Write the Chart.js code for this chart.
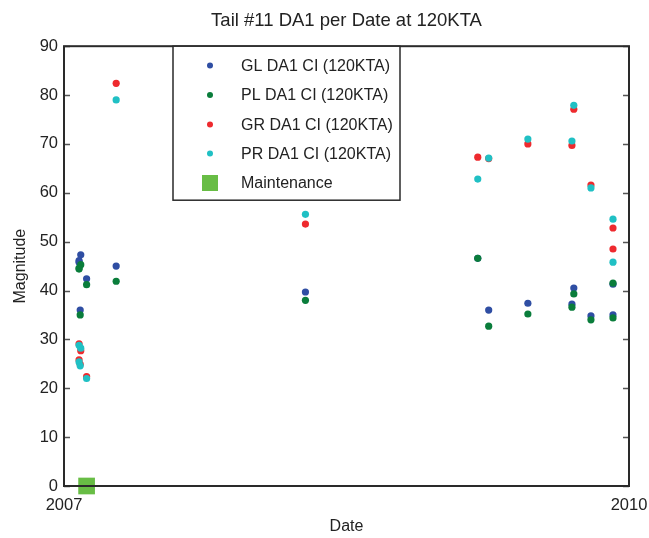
<!DOCTYPE html>
<html>
<head>
<meta charset="utf-8">
<script src="https://cdn.jsdelivr.net/npm/chart.js@4.4.1/dist/chart.umd.min.js"></script>
<style>
  html, body { margin: 0; padding: 0; background: #fff; }
</style>
</head>
<body>
<canvas id="grafico" width="649" height="538"></canvas>
<script>
// fechas en años decimales
const fechas = [2007.080, 2007.089, 2007.080, 2007.086, 2007.120, 2007.277, 2008.282,
  2009.197, 2009.255, 2009.463, 2009.697, 2009.707, 2009.798, 2009.915, 2009.915]
const glValores = [46.1, 47.3, 45.8, 36.0, 42.4, 45.0, 39.7, 46.6, 36.0, 37.4, 37.2, 40.5, 34.8, 41.3, 35.0]
const plValores = [44.4, 45.3, 44.6, 35.0, 41.2, 41.9, 38.0, 46.6, 32.7, 35.2, 36.6, 39.3, 34.0, 41.5, 34.4]
const grValores = [29.1, 27.7, 25.8, 24.9, 22.4, 82.4, 53.6, 67.3, 67.0, 70.0, 69.7, 77.1, 61.6, 52.8, 48.5]
const prValores = [28.8, 28.2, 25.4, 24.6, 22.0, 79.0, 55.6, 62.8, 67.1, 71.0, 70.6, 77.9, 61.0, 54.6, 45.8]
const mantenimientoFechas = [2007.12]
const mantenimientoValores = [0]
const ticksX = [2007, 2010]

const FUENTE = "'Liberation Sans', Arial, sans-serif"
const COLOR_TEXTO = '#222'

const puntos = (xs, ys) => xs.map((x, i) => ({ x, y: ys[i] }))

const serie = (label, valores, color, order) => ({
  label,
  data: puntos(fechas, valores),
  backgroundColor: color,
  borderWidth: 0,
  pointRadius: 3.6,
  pointHoverRadius: 3.6,
  showLine: false,
  order,
})

// marco, ticks interiores y leyenda dentro del área
const marcoPlugin = {
  id: 'marco',
  afterDatasetsDraw(chart) {
    const { ctx, chartArea: a, scales } = chart
    ctx.save()
    ctx.strokeStyle = '#555'
    ctx.lineWidth = 1.5
    scales.y.ticks.forEach((t) => {
      const y = Math.round(scales.y.getPixelForValue(t.value)) + 0.5
      ctx.beginPath()
      ctx.moveTo(a.left, y)
      ctx.lineTo(a.left + 6, y)
      ctx.moveTo(a.right, y)
      ctx.lineTo(a.right - 6, y)
      ctx.stroke()
    })
    ctx.strokeStyle = '#2a2a2a'
    ctx.lineWidth = 2
    ctx.strokeRect(a.left, a.top, a.right - a.left, a.bottom - a.top)

    // leyenda
    const lx = 173, ly = a.top, lw = 227, lh = 154
    ctx.fillStyle = '#fff'
    ctx.fillRect(lx, ly, lw, lh)
    ctx.lineWidth = 1.5
    ctx.strokeRect(lx, ly, lw, lh)
    const filas = [65.5, 95, 124.5, 153.5, 183]
    ctx.font = '16px ' + FUENTE
    ctx.textBaseline = 'middle'
    chart.data.datasets.forEach((ds, i) => {
      const y = filas[i]
      ctx.fillStyle = ds.backgroundColor
      if (ds.pointStyle === 'rect') {
        ctx.fillRect(202, y - 8, 16, 16)
      } else {
        ctx.beginPath()
        ctx.arc(210, y, 3, 0, Math.PI * 2)
        ctx.fill()
      }
      ctx.fillStyle = COLOR_TEXTO
      ctx.fillText(ds.label, 241, y + 1)
    })
    ctx.restore()
  },
}

new Chart(document.getElementById('grafico'), {
  type: 'scatter',
  data: {
    datasets: [
      serie('GL DA1 CI (120KTA)', glValores, '#2f4ea3', 4),
      serie('PL DA1 CI (120KTA)', plValores, '#0a7d3b', 3),
      serie('GR DA1 CI (120KTA)', grValores, '#ee2a2e', 2),
      serie('PR DA1 CI (120KTA)', prValores, '#20c0c4', 1),
      {
        label: 'Maintenance',
        data: puntos(mantenimientoFechas, mantenimientoValores),
        backgroundColor: '#68bd45',
        borderWidth: 0,
        pointStyle: 'rect',
        pointRadius: 11.8,
        pointHoverRadius: 11.8,
        clip: false,
        order: 0,
      },
    ],
  },
  options: {
    responsive: false,
    animation: false,
    layout: { padding: { left: 0, right: 20, top: 0, bottom: 0 } },
    plugins: {
      legend: { display: false },
      tooltip: { enabled: false },
      title: {
        display: true,
        fullSize: false,
        text: 'Tail #11 DA1 per Date at 120KTA',
        color: COLOR_TEXTO,
        font: { family: FUENTE, size: 18.5, weight: 'normal', lineHeight: 1.2 },
        padding: { top: 10, bottom: 14 },
      },
    },
    scales: {
      x: {
        type: 'linear',
        min: 2007,
        max: 2010,
        afterFit: (s) => {
          s.height = 52
          s.paddingLeft = 0
          s.paddingRight = 0
        },
        afterBuildTicks: (s) => { s.ticks = ticksX.map((v) => ({ value: v })) },
        grid: { display: false, drawTicks: false },
        border: { display: false },
        ticks: {
          color: COLOR_TEXTO,
          font: { family: FUENTE, size: 16.5 },
          padding: 10,
          maxRotation: 0,
          callback: (v) => String(v),
        },
        title: {
          display: true,
          text: 'Date',
          color: COLOR_TEXTO,
          font: { family: FUENTE, size: 16 },
          padding: { top: 0, bottom: 2 },
        },
      },
      y: {
        min: 0,
        max: 90,
        afterFit: (s) => { s.width = 64 },
        grid: { display: false, drawTicks: false },
        border: { display: false },
        ticks: {
          stepSize: 10,
          color: COLOR_TEXTO,
          font: { family: FUENTE, size: 16.5 },
          padding: 6,
        },
        title: {
          display: true,
          text: 'Magnitude',
          color: COLOR_TEXTO,
          font: { family: FUENTE, size: 16 },
          padding: { top: 11, bottom: 0 },
        },
      },
    },
  },
  plugins: [marcoPlugin],
})
</script>
</body>
</html>
